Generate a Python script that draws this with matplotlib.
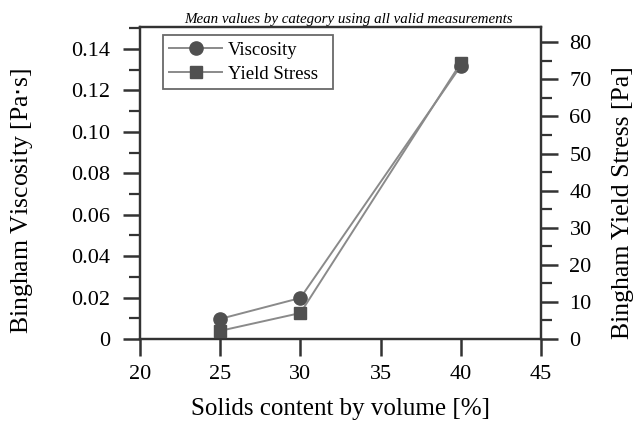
import matplotlib.pyplot as plt
from matplotlib.ticker import MultipleLocator

plt.rcParams['font.family'] = 'Liberation Serif'

# Mean values per solids content
solids = [25, 30, 40]
viscosity = [0.0097, 0.0198, 0.1318]
yield_stress = [2.2, 7.0, 74.4]

fig = plt.figure(figsize=(6.36, 4.21), dpi=100)
ax = fig.add_axes([0.2201, 0.1948, 0.6305, 0.741])
ax2 = ax.twinx()

mcol = '#505050'
lcol = '#8a8a8a'

v_line, = ax.plot(solids, viscosity, color=lcol, lw=1.4, marker='o', markersize=9.5,
                  markerfacecolor=mcol, markeredgecolor=mcol, zorder=3, clip_on=False,
                  label='Viscosity')
y_line, = ax2.plot(solids, yield_stress, color=lcol, lw=1.4, marker='s', markersize=8.5,
                   markerfacecolor=mcol, markeredgecolor=mcol, zorder=3, clip_on=False,
                   label='Yield Stress')

ax.set_xlim(20, 45)
ax.set_ylim(0, 0.1506)
ax2.set_ylim(0, 84.1)
ax.set_xticks([20, 25, 30, 35, 40, 45])
ax.set_yticks([0, 0.02, 0.04, 0.06, 0.08, 0.10, 0.12, 0.14])
ax.set_yticklabels(['0', '0.02', '0.04', '0.06', '0.08', '0.10', '0.12', '0.14'])
ax.yaxis.set_minor_locator(MultipleLocator(0.01))
ax2.set_yticks(range(0, 81, 10))
ax2.yaxis.set_minor_locator(MultipleLocator(5))

for a in (ax, ax2):
    for s in a.spines.values():
        s.set_linewidth(1.6)
        s.set_color('#333333')
ax.tick_params(axis='x', labelsize=16, width=1.8, length=12.5, pad=6, color='#333333')
ax.tick_params(axis='y', labelsize=16, width=1.8, length=12.5, pad=9, color='#333333')
ax.tick_params(axis='y', which='minor', width=1.6, length=8, color='#333333')
ax2.tick_params(axis='y', labelsize=16, width=1.8, length=12.5, pad=8, color='#333333')
ax2.tick_params(axis='y', which='minor', width=1.6, length=8, color='#333333')

ax.set_xlabel('Solids content by volume [%]', fontsize=18)
ax.set_ylabel('Bingham Viscosity [Pa$\\cdot$s]', fontsize=18.5)
ax2.set_ylabel('Bingham Yield Stress [Pa]', fontsize=18.5)
ax.xaxis.set_label_coords(0.5, -0.189)
ax.yaxis.set_label_coords(-0.262, 0.442)
ax2.yaxis.set_label_coords(1.177, 0.436)
ax.set_title('Mean values by category using all valid measurements', fontsize=10.8,
             style='italic', pad=3, x=0.52)

leg = ax2.legend([v_line, y_line], ['Viscosity', 'Yield Stress'],
                 loc='upper left', bbox_to_anchor=(0.057, 0.5, 0.424, 0.474),
                 mode='expand', borderaxespad=0, fontsize=13.5,
                 fancybox=False, edgecolor='#444444', handlelength=2.8,
                 borderpad=0.35, labelspacing=0.35, handletextpad=0.3)
leg.get_frame().set_linewidth(1.3)

fig.savefig('out.png', dpi=100)
